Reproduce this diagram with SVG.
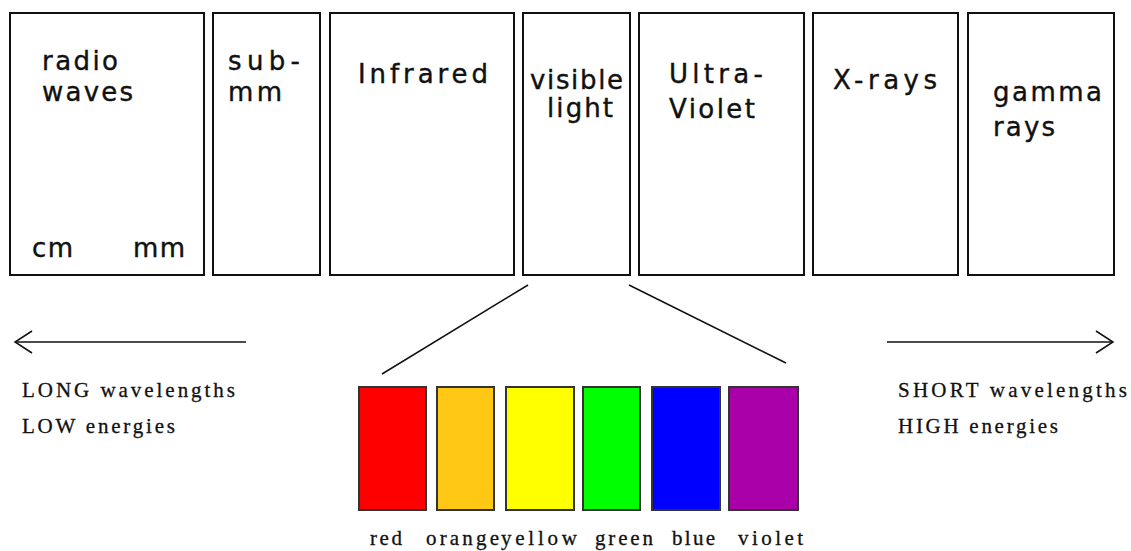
<svg xmlns="http://www.w3.org/2000/svg" width="1131" height="551" viewBox="0 0 1131 551">
<style>
.band{fill:#fff;stroke:#111;stroke-width:2}
.lbl{font-family:"DejaVu Sans","Verdana",sans-serif;font-size:26px;fill:#111;stroke:#111;stroke-width:0.4}
.sw{stroke:#333;stroke-width:2}
.ser{font-family:"Liberation Serif","Times New Roman",serif;font-size:21px;fill:#111;stroke:#111;stroke-width:0.3}
.conn{stroke:#111;stroke-width:1.5;fill:none}
</style>
<defs>
<marker id="open" markerUnits="userSpaceOnUse" markerWidth="30" markerHeight="30" viewBox="-20 -15 25 30" refX="0" refY="0" orient="auto">
<path d="M-17,-11 L0,0 L-17,11" fill="none" stroke="#111" stroke-width="1.5"/>
</marker>
</defs>
<rect width="1131" height="551" fill="#fff"/>
<g id="radio">
<rect class="band" x="10" y="13" width="194" height="262"/>
<text class="lbl" x="42" y="70" textLength="76" lengthAdjust="spacing">radio</text>
<text class="lbl" x="42" y="101" textLength="91" lengthAdjust="spacing">waves</text>
<text class="lbl" x="32" y="257" textLength="41" lengthAdjust="spacing">cm</text>
<text class="lbl" x="133" y="257" textLength="52" lengthAdjust="spacing">mm</text>
</g>
<g id="submm">
<rect class="band" x="213" y="13" width="107" height="262"/>
<text class="lbl" x="228" y="70" textLength="72" lengthAdjust="spacing">sub-</text>
<text class="lbl" x="228" y="101" textLength="54" lengthAdjust="spacing">mm</text>
</g>
<g id="infrared">
<rect class="band" x="330" y="13" width="184" height="262"/>
<text class="lbl" x="358" y="83" textLength="130" lengthAdjust="spacing">Infrared</text>
</g>
<g id="visible">
<rect class="band" x="523" y="13" width="107" height="262"/>
<text class="lbl" x="530" y="89" font-size="23" textLength="93" lengthAdjust="spacing">visible</text>
<text class="lbl" x="547" y="117" font-size="23" textLength="66" lengthAdjust="spacing">light</text>
</g>
<g id="uv">
<rect class="band" x="639" y="13" width="165" height="262"/>
<text class="lbl" x="669" y="83" textLength="94" lengthAdjust="spacing">Ultra-</text>
<text class="lbl" x="669" y="118" textLength="86" lengthAdjust="spacing">Violet</text>
</g>
<g id="xrays">
<rect class="band" x="813" y="13" width="145" height="262"/>
<text class="lbl" x="833" y="89" textLength="104" lengthAdjust="spacing">X-rays</text>
</g>
<g id="gamma">
<rect class="band" x="968" y="13" width="146" height="262"/>
<text class="lbl" x="993" y="101" textLength="109" lengthAdjust="spacing">gamma</text>
<text class="lbl" x="993" y="136" textLength="62" lengthAdjust="spacing">rays</text>
</g>
<g id="connectors">
<line class="conn" x1="528" y1="285" x2="382" y2="374"/>
<line class="conn" x1="629" y1="285" x2="786" y2="363"/>
<line class="conn" x1="246" y1="342" x2="15" y2="342" marker-end="url(#open)"/>
<line class="conn" x1="887" y1="342" x2="1113" y2="342" marker-end="url(#open)"/>
</g>
<g id="long">
<text class="ser" x="22" y="397" textLength="213" lengthAdjust="spacing">LONG wavelengths</text>
<text class="ser" x="22" y="433" textLength="153" lengthAdjust="spacing">LOW energies</text>
</g>
<g id="short">
<text class="ser" x="898" y="397" textLength="229" lengthAdjust="spacing">SHORT wavelengths</text>
<text class="ser" x="898" y="433" textLength="160" lengthAdjust="spacing">HIGH energies</text>
</g>
<g id="red"><rect class="sw" x="359" y="387" width="67" height="123" fill="#ff0000"/><text class="ser" x="370" y="545" textLength="32" lengthAdjust="spacing">red</text></g>
<g id="orange"><rect class="sw" x="437" y="387" width="57" height="123" fill="#fec814"/><text class="ser" x="426" y="545" textLength="73" lengthAdjust="spacing">orange</text></g>
<g id="yellow"><rect class="sw" x="506" y="387" width="68" height="123" fill="#ffff00"/><text class="ser" x="501" y="545" textLength="76" lengthAdjust="spacing">yellow</text></g>
<g id="green"><rect class="sw" x="583" y="387" width="57" height="123" fill="#00ff00"/><text class="ser" x="595" y="545" textLength="58" lengthAdjust="spacing">green</text></g>
<g id="blue"><rect class="sw" x="652" y="387" width="68" height="123" fill="#0000ff"/><text class="ser" x="672" y="545" textLength="43" lengthAdjust="spacing">blue</text></g>
<g id="violet"><rect class="sw" x="729" y="387" width="69" height="123" fill="#aa00aa"/><text class="ser" x="738" y="545" textLength="65" lengthAdjust="spacing">violet</text></g>
</svg>
